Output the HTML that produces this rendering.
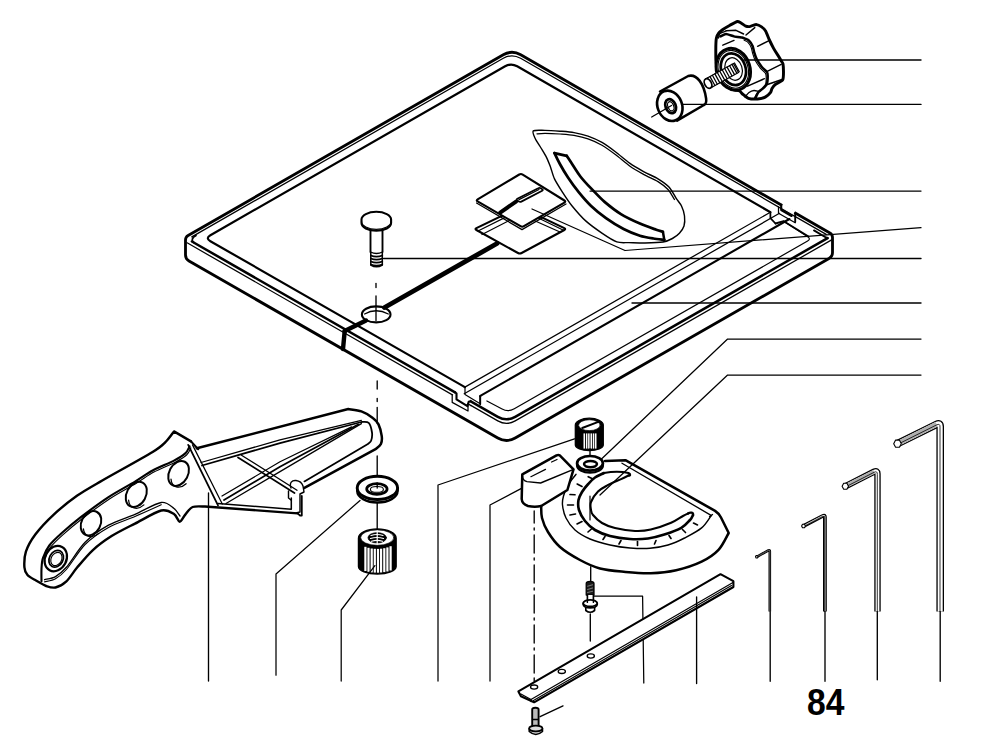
<!DOCTYPE html>
<html><head><meta charset="utf-8"><style>
html,body{margin:0;padding:0;background:#fff;overflow:hidden;}
svg{display:block}
.t{font-family:"Liberation Sans",sans-serif;font-weight:bold;}
</style></head><body>
<svg width="1000" height="738" viewBox="0 0 1000 738">
<g fill="none" stroke="#000" stroke-linejoin="round" stroke-linecap="round">
<path d="M185.5,240 Q185.5,237 188.1,235.5 L503.3,54.8 Q512,49.8 520.7,54.8 L829.9,233 Q832.5,234.5 832.5,237.5 L832.5,252.5 Q832.5,256.5 829,258.5 L515.2,438 Q506.5,443 497.8,438 L189,261 Q185.5,259 185.5,255 Z" stroke-width="2.8350000000000004" fill="none" />
<path d="M191.9,241.5 L497.8,416.8 Q506.5,421.8 515.2,416.8 L827.6,238.1 " stroke-width="2.52" fill="none" />
<polyline points="814,230.4 825.5,237.2 827.6,238.2" stroke-width="1.8900000000000001" fill="none"/>
<path d="M187.1,242.8 L497.8,420.9 Q506.5,425.9 515.2,420.9 L832.5,239.4 " stroke-width="1.25" fill="none" />
<path d="M191.8,236.9 L503.3,58.3 Q511.9,53.3 520.6,58.3 L826.2,234.4 " stroke-width="1.25" fill="none" />
<path d="M196,235.6 Q189.6,239.2 194,242.6" stroke-width="1.7600000000000002" fill="none" />
<path d="M464.9,387.1 L210.4,241.2 Q205.2,238.2 210.4,235.2 L505.1,66.3 Q511.1,62.8 517.2,66.3 L770.4,212.2 " stroke-width="2.205" fill="none" />
<polyline points="464.9,387.1 770.4,212.2" stroke-width="1.25" fill="none"/>
<polyline points="464.2,393.7 779.5,213.3" stroke-width="1.25" fill="none"/>
<polyline points="480.3,395.9 789.4,219" stroke-width="2.1" fill="none"/>
<path d="M486.9,401 L502.1,409 Q508.2,412.3 514.3,408.8 L807.6,241 Q811.1,239 807.7,236.8 L783.7,221.2 " stroke-width="1.2100000000000002" fill="none" />
<line x1="455.6" y1="392.6" x2="469.8" y2="400.8" stroke-width="3.7800000000000002" stroke="#fff" stroke-linecap="butt"/>
<line x1="452.8" y1="395.1" x2="470.6" y2="405.3" stroke-width="2.7300000000000004" stroke="#fff" stroke-linecap="butt"/>
<polyline points="454.6,392.1 456.5,393.3 456.5,399.4 467.4,406.1 468.7,401.8 470.5,401.2" stroke-width="2.1" fill="none"/>
<polyline points="452.2,394.8 452.2,402.4 468,411 468,403.7 471,405.6" stroke-width="1.25" fill="none"/>
<polyline points="463.8,386.6 465,387.2 465,394.5 480.2,403.7 480.2,396.3" stroke-width="1.2100000000000002" fill="none"/>
<polyline points="480.2,396.3 480.2,404.3" stroke-width="1.8900000000000001" fill="none"/>
<line x1="782.2" y1="205.5" x2="794.4" y2="212.5" stroke-width="3.7800000000000002" stroke="#fff" stroke-linecap="butt"/>
<polyline points="781.2,204.9 781.2,210 791.6,216" stroke-width="2.1" fill="none"/>
<polyline points="795.2,213 795.2,222" stroke-width="1.8900000000000001" fill="none"/>
<polyline points="778.5,206.8 778.5,213.3 795.2,222.8" stroke-width="1.25" fill="none"/>
<polyline points="770.4,212.2 770.4,218.2 775.5,223.5" stroke-width="1.7600000000000002" fill="none"/>
<polyline points="775.5,223.5 783.7,221.2 808.5,236.5" stroke-width="1.8900000000000001" fill="none"/>
<polyline points="384.5,307.5 497,243.5" stroke-width="4.83" fill="none"/>
<polyline points="366,320.5 344.7,331" stroke-width="4.41" fill="none"/>
<polyline points="344.7,331 343,349" stroke-width="4.41" fill="none"/>
<ellipse cx="376.2" cy="314.4" rx="14.3" ry="8" stroke-width="2.1" fill="none"/>
<path d="M364.6,314 Q376,307.5 388.3,314" stroke-width="1.25" fill="none" />
<line x1="376" y1="296" x2="376" y2="320.4" stroke-width="1.35" />
<line x1="376" y1="283.5" x2="376" y2="287.5" stroke-width="1.35" />
<path d="M361.5,219.6 A14.8,7.8 0 0 1 391.1,219.6 L391.1,223 A14.8,7.8 0 0 1 361.5,223 Z" stroke-width="2.1" fill="#fff" />
<path d="M361.5,221.5 A14.8,7.8 0 0 0 391.1,221.5" stroke-width="1.25" fill="none" />
<path d="M370.5,230.5 L370.5,252 M382.5,230.5 L382.5,252" stroke-width="1.8900000000000001" fill="none" />
<path d="M370.5,252 Q376.5,255 382.5,252" stroke-width="1.32" fill="none" />
<path d="M370.8,255.5 Q376.5,257.9 382.3,255.5" stroke-width="1.6500000000000001" fill="none" />
<path d="M370.8,258.5 Q376.5,260.9 382.3,258.5" stroke-width="1.6500000000000001" fill="none" />
<path d="M370.8,261.5 Q376.5,263.9 382.3,261.5" stroke-width="1.6500000000000001" fill="none" />
<path d="M370.8,264.5 Q376.5,266.9 382.3,264.5" stroke-width="1.6500000000000001" fill="none" />
<path d="M370.8,253 L370.8,265 Q376.5,268.5 382.3,265 L382.3,253" stroke-width="1.54" fill="none" />
<path d="M476.4,230 Q474.6,229 476.4,228.1 L518.2,207.9 Q520,207 521.8,207.9 L564.3,228.1 Q566.1,229 564.3,230 L521.6,253 Q519.8,254 518,253 Z" stroke-width="2.1" fill="none" />
<polyline points="478,231 516,212" stroke-width="1.25" fill="none"/>
<polyline points="482,234.5 519,215.5" stroke-width="1.25" fill="none"/>
<polyline points="524,216 560,232" stroke-width="1.25" fill="none"/>
<polyline points="527,212.5 563,230" stroke-width="1.25" fill="none"/>
<path d="M477.6,201.4 Q475.9,200.4 477.6,199.4 L519.3,174.5 Q521,173.5 522.7,174.6 L564.4,200.5 Q566.1,201.6 564.4,202.6 L523.9,226.2 Q522.2,227.2 520.5,226.2 Z" stroke-width="2.1" fill="#fff" />
<polyline points="476.5,203 522,229.6 566,204" stroke-width="1.25" fill="none"/>
<path d="M517.2,200.4 Q516,199.5 517.3,198.8 L538.2,188.2 Q539.5,187.5 540.8,188.3 L542.2,189.2 Q543.5,190 542.2,190.7 L521.3,201.6 Q520,202.3 518.8,201.4 Z" stroke-width="1.7600000000000002" fill="none" />
<polyline points="519,199.6 539,189.5" stroke-width="1.25" fill="none"/>
<polyline points="500.2,212.6 516,201.6" stroke-width="3.9899999999999998" fill="none"/>
<polyline points="532,209 625,250.5 921,227.6" stroke-width="1.25" fill="none"/>
<path d="M533.3,130.9 C534.6,129.8 541.4,130.4 545,130.4 C548.6,130.4 556.1,130.9 560,131.2 C563.9,131.5 570.3,131.9 574,132.6 C577.7,133.3 584.3,134.8 588,136.1 C591.7,137.4 598.3,140.3 602,142.4 C605.7,144.5 612.3,149.4 616,152.2 C619.7,155 626.3,160.8 630,163.4 C633.7,166 640.3,169.7 644,171.8 C647.7,173.9 654.6,176.7 658,178.8 C661.4,180.9 666.8,184.6 669.2,187.2 C671.6,189.8 674.6,195.9 676.2,198.4 C677.8,200.9 680.4,203.7 681.5,206 C682.6,208.3 684.2,213.3 684.5,216 C684.8,218.7 684.7,223.7 684,226 C683.3,228.3 680.9,231.6 679.4,233.3 C677.9,235 674.6,237.3 672.4,238.5 C670.2,239.7 666.7,241.4 663,242 C659.3,242.6 649.5,242.9 645,243 C640.5,243.1 632.8,242.7 629,242.6 C625.2,242.5 620.4,243.2 616.8,241.9 C613.2,240.6 606,235.9 601.9,233.1 C597.8,230.3 589.7,224.5 585.7,220.9 C581.7,217.3 575.2,209.8 572.1,206 C569,202.2 564.9,196 562.6,192.4 C560.3,188.8 556.1,182.3 554.5,178.9 C552.9,175.5 551.5,169.6 550.4,166.7 C549.3,163.8 547.8,159.8 546.5,157.3 C545.2,154.8 542.5,150.5 541,148 C539.5,145.5 536.2,140.8 535.2,138.5 C534.2,136.2 532,132 533.3,130.9 Z" stroke-width="1.4300000000000002" fill="#fff" />
<path d="M537,133.8 C538.1,133.7 541.9,133.3 545,133.3 C548.1,133.3 556.1,133.7 560,134 C563.9,134.3 570.3,134.7 574,135.4 C577.7,136.1 584.3,137.6 588,138.9 C591.7,140.2 598.3,143.1 602,145.2 C605.7,147.3 612.3,152.2 616,155 C619.7,157.8 626.3,163.6 630,166.2 C633.7,168.8 640.3,172.5 644,174.6 C647.7,176.7 654.8,179.6 658,181.6 C661.2,183.6 665.8,187.1 668,189.5 C670.2,191.9 673.6,198.2 674.5,199.5 " stroke-width="1.25" fill="none" />
<path d="M554.5,153.1 C555.2,154.6 558.1,160.7 559.9,164 C561.7,167.3 565.5,173.7 568,177.5 C570.5,181.3 575.8,188.6 578.9,192.4 C582,196.2 587.5,202.6 591.1,206 C594.7,209.4 601.7,215.1 606,218.2 C610.3,221.3 619.1,226.7 623.6,229 C628.1,231.3 635.9,234.5 639.9,235.8 C643.9,237.1 650.1,238 653.4,238.5 C656.7,239 662.8,239.7 664.3,239.9 " stroke-width="2.7300000000000004" fill="none" />
<path d="M566.7,155.8 C567.4,156.9 570.3,161.3 572.1,164 C573.9,166.7 577.7,172.9 580.2,176.2 C582.7,179.5 587.8,185 591.1,188.4 C594.4,191.8 600.6,198.5 604.6,201.9 C608.6,205.3 616.2,211.2 620.9,214.1 C625.6,217 635.2,221.5 639.9,223.6 C644.6,225.7 653.1,228.6 656.2,229.7 C659.3,230.8 662,231.5 662.9,231.8 " stroke-width="2.7300000000000004" fill="none" />
<polyline points="554.5,153.1 566.7,155.8" stroke-width="2.7300000000000004" fill="none"/>
<polyline points="662.9,231.8 664.3,239.9" stroke-width="2.52" fill="none"/>
<polyline points="590,191 921,191" stroke-width="1.25" fill="none"/>
<polyline points="548.5,218 532,209" stroke-width="0" fill="none"/>
<path d="M716.4,38 C716.7,36.4 717.9,34.3 718.5,33.5 C719.1,32.7 721.4,30.6 722.5,29.8 C723.6,29 728.5,26 730,25.2 C731.5,24.4 736.3,21.7 737.4,21.5 C738.5,21.3 740.2,22.6 741,23 C741.8,23.4 744.4,25.4 745.2,25.8 C746.1,26.2 748.7,26.7 749.5,26.6 C750.3,26.6 752.3,25.5 753,25.3 C753.7,25.1 755.8,24.5 756.6,24.6 C757.4,24.7 760.3,26 761.2,26.6 C762.1,27.2 764.8,29.7 765.6,31 C766.4,32.3 768.6,38.3 769.4,40 C770.2,41.7 772.8,46.9 773.6,48.4 C774.4,49.9 777,53.9 777.8,55.1 C778.6,56.3 780.7,59.9 781.2,60.8 C781.7,61.7 782.8,62.9 783,64 C783.2,65.1 783.5,70.3 783.5,71.9 C783.5,73.5 783.4,78.7 782.6,80 C781.8,81.3 776.4,83.7 775.3,84.5 C774.2,85.3 772.5,87.7 772,88.5 C771.5,89.3 771.3,91.4 770.6,92.3 C769.9,93.2 766.5,96.4 765.2,97.1 C763.9,97.8 759.3,98.9 757.6,99 C755.9,99.1 749.9,98.8 748.4,98.3 C746.9,97.8 743.4,94.7 742.5,94 C741.6,93.3 740.8,91.5 739.5,91 C738.2,90.5 731.9,89.7 730,88.5 C728.1,87.3 722.4,81.5 721,79 C719.6,76.5 716.7,66.9 716.2,64 C715.7,61.1 715.8,52.6 715.8,50 C715.8,47.4 716.1,39.6 716.4,38 Z" stroke-width="2.94" fill="#fff" />
<path d="M720.4,36.4 C721,36.2 724.6,34 726,34 C727.4,34 732.4,36 734,36.4 C735.6,36.8 740.8,37.4 742,37.6 C743.2,37.8 744.9,38.5 745.6,38.8 C746.3,39.1 748.3,39.9 749,40.6 C749.7,41.3 752.1,44.7 752.6,45.9 C753.1,47.1 753.9,51.3 754.3,52.6 C754.7,53.9 756,57.9 756.8,59.3 C757.5,60.7 760.8,65.6 761.8,66.9 C762.8,68.2 766.3,71 766.9,71.9 C767.5,72.8 767.7,74.9 767.7,76.1 C767.7,77.3 767.4,82.4 766.9,83.7 C766.4,85 763.5,87.9 762.7,88.7 C761.9,89.5 759.2,91.2 758.5,92.1 C757.8,93 755.9,97 755.6,97.6 " stroke-width="2.52" fill="none" />
<path d="M744.1,40.1 C744.4,40.3 746.8,41.2 747.5,41.9 C748.2,42.6 750.6,46 751.1,47.2 C751.6,48.4 752.4,52.6 752.8,53.9 C753.2,55.2 754.5,59.2 755.3,60.6 C756,62 759.3,66.9 760.3,68.2 C761.3,69.5 764.8,72.3 765.4,73.2 C766,74.1 766.2,76.2 766.2,77.4 C766.2,78.6 765.9,83.7 765.4,85 C764.9,86.3 762,89.2 761.2,90 C760.4,90.8 757.7,92.5 757,93.4 C756.3,94.3 754.4,98.3 754.1,98.9 " stroke-width="1.125" fill="none" />
<path d="M718.5,38 C718.7,37.4 719,34.4 720,33.5 C721,32.6 725.2,31.3 726,31 " stroke-width="1.32" fill="none" />
<polyline points="726,30.8 736,30.3 743.6,34" stroke-width="1.4300000000000002" fill="none"/>
<polyline points="746,35 754.8,27.6" stroke-width="1.4300000000000002" fill="none"/>
<polyline points="757.6,46.3 768.6,40.8" stroke-width="1.4300000000000002" fill="none"/>
<polyline points="767.7,71.1 781.2,64.4" stroke-width="1.4300000000000002" fill="none"/>
<polyline points="767.4,84.5 782,79.5" stroke-width="1.4300000000000002" fill="none"/>
<polyline points="747.6,86.2 764.4,78.7" stroke-width="1.4300000000000002" fill="none"/>
<polyline points="722.8,45.2 734,40.4" stroke-width="1.4300000000000002" fill="none"/>
<path d="M745,97 C745.5,96.4 747.8,93.4 749,92.5 C750.2,91.6 752.7,90.6 754,90.5 C755.3,90.4 757.9,91.4 758.5,91.5 " stroke-width="1.32" fill="none" />
<ellipse cx="733.3" cy="69.3" rx="16.8" ry="21.3" stroke-width="2.94" fill="#fff" transform="rotate(-18 733.3 69.3)"/>
<ellipse cx="733.3" cy="69.3" rx="14.8" ry="19.3" stroke-width="1.125" fill="none" transform="rotate(-18 733.3 69.3)"/>
<ellipse cx="733.4" cy="69.2" rx="12.2" ry="16.2" stroke-width="2.7300000000000004" fill="#fff" transform="rotate(-18 733.4 69.2)"/>
<ellipse cx="733.6" cy="69" rx="8.5" ry="11.5" stroke-width="1.2100000000000002" fill="none" transform="rotate(-18 733.6 69)"/>
<path d="M705.5,79 L733.5,63.5 L738.5,72.5 L710.5,88 Z" stroke-width="1.32" fill="#fff" />
<path d="M707.5,78 l4.8,8.7" stroke-width="1.25" fill="none" />
<path d="M710,76.6 l4.8,8.7" stroke-width="1.25" fill="none" />
<path d="M712.4,75.3 l4.8,8.7" stroke-width="1.25" fill="none" />
<path d="M714.9,73.9 l4.8,8.7" stroke-width="1.25" fill="none" />
<path d="M717.3,72.5 l4.8,8.7" stroke-width="1.25" fill="none" />
<path d="M719.8,71.2 l4.8,8.7" stroke-width="1.25" fill="none" />
<path d="M722.2,69.8 l4.8,8.7" stroke-width="1.25" fill="none" />
<path d="M724.7,68.5 l4.8,8.7" stroke-width="1.25" fill="none" />
<path d="M727.1,67.1 l4.8,8.7" stroke-width="1.25" fill="none" />
<path d="M729.6,65.7 l4.8,8.7" stroke-width="1.25" fill="none" />
<path d="M732,64.4 l4.8,8.7" stroke-width="1.25" fill="none" />
<path d="M734.5,63 l4.8,8.7" stroke-width="1.25" fill="none" />
<ellipse cx="708" cy="83.5" rx="3.3" ry="5.2" stroke-width="1.7600000000000002" fill="#fff" transform="rotate(-28 708 83.5)"/>
<path d="M660,91.5 L688.2,76 C697,73.5 704,84 706.1,98.5 C706.6,102 705.6,104.2 703.9,105 L677.1,120.7" stroke-width="2.52" fill="#fff" />
<ellipse cx="669.8" cy="105.8" rx="12.2" ry="15.6" stroke-width="2.625" fill="#fff" transform="rotate(-22 669.8 105.8)"/>
<ellipse cx="670.6" cy="106.2" rx="5.1" ry="7.2" stroke-width="2.7300000000000004" fill="none" transform="rotate(-22 670.6 106.2)"/>
<ellipse cx="670.8" cy="106.3" rx="2.9" ry="4.8" stroke-width="1.25" fill="none" transform="rotate(-22 670.8 106.3)"/>
<line x1="651.7" y1="117" x2="671.5" y2="105.5" stroke-width="1.35" />
<path d="M196.8,448.3 L348.3,409 C350.3,409.4 357.7,410.1 361.4,411.4 C365.1,412.7 370.2,415.9 372.8,417.9 C375.4,419.8 377.2,421.7 378.5,424.4 C379.8,427.1 381.3,432.9 381.7,435.8 C382.1,438.7 381.8,442.1 380.9,444 C380,445.9 376.7,448.1 376,448.8  L304.4,487.9" stroke-width="2.52" fill="none" />
<polyline points="201,462.5 280,439.9 361.4,420.3" stroke-width="1.25" fill="none"/>
<path d="M202,465.5 L280,443.1 L361.4,422 C362.5,422.1 367.1,421.2 368.7,422.8 C370.3,424.4 371.6,429.8 372,432.5 C372.4,435.2 371.7,439 371.1,440.7 C370.5,442.4 368.4,443.5 367.9,444  L304.4,481.4" stroke-width="1.785" fill="none" />
<polyline points="351.6,426.9 280,461.8 222,496" stroke-width="1.25" fill="none"/>
<polyline points="358.1,424.4 280,466.7 224,500" stroke-width="1.7600000000000002" fill="none"/>
<polyline points="361.4,423.6 280,471.6 226,503.5" stroke-width="1.25" fill="none"/>
<path d="M238,457.5 L294.5,493" stroke-width="1.7600000000000002" fill="none" />
<path d="M241.5,455.2 L297,490.2" stroke-width="1.32" fill="none" />
<path d="M291,488 C289,483 292,480 296,480.5 C300,481 302,483 303,486 L304,492 L300,494 L300,512 L296,513 M288.5,491 L288.5,498 L291,500" stroke-width="1.4300000000000002" fill="none" />
<path d="M218,503.5 L291.3,509.2 L291.3,498" stroke-width="1.54" fill="none" />
<path d="M297.6,513.4 L300,515.5 L301.8,515.5 L301.8,496" stroke-width="1.7600000000000002" fill="none" />
<path d="M191,441.4 L174,431.4 C172.7,433 168.6,439 165.4,442.1 C162.2,445.2 162.1,446.2 152.6,452 C143.1,457.8 113.6,474 102.3,480.5 C91,487 84.5,490.5 77.3,495.6 C70.1,500.7 60.3,508.5 54,514.3 C47.7,520.1 39.5,528.9 35.3,534.5 C31.1,540.1 27.5,546.8 25.9,551.7 C24.3,556.6 24.2,563.8 24.4,567.3 C24.6,570.8 25.8,573 27.5,575 C29.2,577 33.2,578.9 36,580.5 C38.8,582.1 43.3,585 46.2,586 C49.1,587 52.5,588.2 55.5,587.5 C58.5,586.8 63.1,584.3 66.4,581.3 C69.7,578.3 73.3,572 77.3,567.3 C81.3,562.6 87.8,554.8 92.9,550.1 C98,545.4 105.3,540.1 111.6,536.1 C117.9,532.1 127.6,527.4 135,523.6 C142.4,519.8 155.3,511.9 161.2,510.5 C167,509.1 171.2,512.3 174,514 C176.8,515.7 178,521.6 179.7,521.7 C181.4,521.8 183.4,516.8 185.3,514.6 C187.2,512.4 189.6,508.2 192.6,507 C195.6,505.8 203.1,506.6 205,506.5  L297.6,513.4" stroke-width="2.415" fill="none" />
<path d="M189.6,446.3 C189,447.4 187.6,451.3 185.3,453.4 C183,455.5 178.9,458 174,460.6 C169.1,463.2 158.4,467.4 152.6,470.5 C146.8,473.6 141.6,477.6 135,481.6 C128.4,485.6 116.7,491.7 108.5,497.1 C100.3,502.5 87.5,512 80.5,517.4 C73.5,522.8 66.5,528.8 61.8,533 C57.1,537.2 52.1,541.8 49.3,545.5 C46.5,549.2 44.2,554.4 43,557.9 C41.8,561.4 41.7,565.3 41.5,568.8 C41.3,572.3 41.5,579.4 41.5,581.3 " stroke-width="2.1" fill="none" />
<path d="M190.9,447.9 C190.3,449 188.9,452.9 186.6,455 C184.3,457.1 180.2,459.6 175.3,462.2 C170.4,464.8 159.8,469 153.9,472.1 C148.1,475.2 142.9,479.2 136.3,483.2 C129.7,487.2 118,493.3 109.8,498.7 C101.6,504.1 88.8,513.6 81.8,519 C74.8,524.4 67.8,530.4 63.1,534.6 C58.4,538.8 53.4,543.4 50.6,547.1 C47.8,550.8 45.2,557.6 44.3,559.5 " stroke-width="1.125" fill="none" />
<path d="M180,516 C179.1,514.9 176.8,510.5 174,508.5 C171.2,506.5 167,501.6 161.2,502.5 C155.3,503.4 142.9,510.9 135,514.3 C127.1,517.7 116,521 108.5,525.2 C101,529.4 91.4,536 85.1,542.3 C78.8,548.6 70.8,562.2 66.4,567.3 C62,572.4 58.8,574.7 55.5,576.6 C52.2,578.5 46.2,579.2 44.6,579.7 " stroke-width="1.32" fill="none" />
<path d="M161.2,504.7 C157.3,506.5 142.9,513.1 135,516.5 C127.1,519.9 116,523.2 108.5,527.4 C101,531.6 91.4,538.2 85.1,544.5 C78.8,550.8 70.8,564.4 66.4,569.5 C62,574.6 58.8,576.9 55.5,578.8 C52.2,580.7 46.2,581.4 44.6,581.9 " stroke-width="1.125" fill="none" />
<polyline points="188.2,444.9 218,505.4" stroke-width="1.785" fill="none"/>
<polyline points="192.5,444.9 222.3,504" stroke-width="1.25" fill="none"/>
<polyline points="191,441.4 198.2,449.2" stroke-width="2.1" fill="none"/>
<ellipse cx="178.6" cy="473.4" rx="9.4" ry="13.2" stroke-width="1.9949999999999999" fill="none" transform="rotate(28 178.6 473.4)"/>
<path d="M170.1,478 A9.4,13.2 28 0 0 185.2,482.6" stroke-width="1.25" fill="none" transform="translate(0.9,1.1)"/>
<ellipse cx="136.3" cy="494.4" rx="9.6" ry="13.4" stroke-width="1.9949999999999999" fill="none" transform="rotate(28 136.3 494.4)"/>
<path d="M127.7,499.1 A9.6,13.4 28 0 0 143,503.8" stroke-width="1.25" fill="none" transform="translate(0.9,1.1)"/>
<ellipse cx="91" cy="523.3" rx="9.5" ry="12.8" stroke-width="1.9949999999999999" fill="none" transform="rotate(28 91 523.3)"/>
<path d="M82.5,527.8 A9.5,12.8 28 0 0 97.7,532.3" stroke-width="1.25" fill="none" transform="translate(0.9,1.1)"/>
<ellipse cx="55.8" cy="558.6" rx="10.6" ry="13.2" stroke-width="2.205" fill="none" transform="rotate(28 55.8 558.6)"/>
<ellipse cx="56.2" cy="558.8" rx="6.8" ry="8.8" stroke-width="1.785" fill="none" transform="rotate(28 56.2 558.8)"/>
<ellipse cx="56.4" cy="559" rx="5.2" ry="7" stroke-width="1.125" fill="none" transform="rotate(28 56.4 559)"/>
<line x1="208.5" y1="493" x2="208.5" y2="681" stroke-width="1.35" />
<line x1="377.2" y1="381" x2="377.2" y2="389" stroke-width="1.35" />
<line x1="377.2" y1="398.5" x2="377.2" y2="401.5" stroke-width="1.35" />
<line x1="377.2" y1="407.5" x2="377.2" y2="423" stroke-width="1.35" />
<line x1="377.2" y1="456" x2="377.2" y2="477" stroke-width="1.35" />
<path d="M357.2,488 L357.2,491 A20.2,11.5 0 0 0 397.6,491 L397.6,488" stroke-width="2.3100000000000005" fill="#fff" />
<ellipse cx="377.4" cy="487.9" rx="20.2" ry="11.6" stroke-width="2.94" fill="#fff"/>
<ellipse cx="376.9" cy="489" rx="10.2" ry="5.4" stroke-width="2.7300000000000004" fill="none"/>
<ellipse cx="376.9" cy="489.4" rx="6.5" ry="2.9" stroke-width="1.125" fill="none"/>
<line x1="377.2" y1="483" x2="377.2" y2="488" stroke-width="1.35" />
<line x1="377.2" y1="503" x2="377.2" y2="528.7" stroke-width="1.35" />
<path d="M358.4,538.2 L358.4,566.5 A18.9,7.5 0 0 0 396.2,566.5 L396.2,538.2 A18.9,9.3 0 0 0 358.4,538.2 Z" stroke-width="1.25" fill="#000" />
<ellipse cx="377.3" cy="537.6" rx="16.6" ry="7.7" stroke-width="0.625" fill="#fff"/>
<ellipse cx="377.2" cy="537.8" rx="9.3" ry="5.2" stroke-width="0.625" fill="#000"/>
<path d="M371,535.5 Q377,533.5 383,535.5 M370.5,538.5 Q377,536.5 383.5,538.5 M371.5,541.3 Q377,539.5 382.5,541.3" stroke-width="1.125" fill="none" stroke="#fff"/>
<line x1="377.2" y1="531" x2="377.2" y2="544" stroke-width="1.215" stroke="#fff"/>
<rect x="364.3" y="546.8" width="2.2" height="24.2" fill="#fff" stroke="none"/>
<rect x="367.4" y="547.8" width="2.2" height="24" fill="#fff" stroke="none"/>
<rect x="370.6" y="548.5" width="2.2" height="23.9" fill="#fff" stroke="none"/>
<rect x="373.7" y="548.8" width="2.2" height="23.8" fill="#fff" stroke="none"/>
<rect x="376.9" y="548.9" width="2.2" height="23.8" fill="#fff" stroke="none"/>
<rect x="380" y="548.7" width="2.2" height="23.8" fill="#fff" stroke="none"/>
<rect x="383.2" y="548.2" width="2.2" height="23.9" fill="#fff" stroke="none"/>
<rect x="386.3" y="547.4" width="2.2" height="24.1" fill="#fff" stroke="none"/>
<rect x="389.5" y="546.2" width="2.2" height="24.3" fill="#fff" stroke="none"/>
<polyline points="360,500.5 276,574 276,675.2" stroke-width="1.25" fill="none"/>
<polyline points="374.9,565.6 341.2,610 341.2,681" stroke-width="1.25" fill="none"/>
<path d="M605.1,461 L625.4,460.2 L715.1,510.9 Q719,513.5 721,517.5 L728.7,533 C727,535.8 723,545.1 718.5,549.9 C714,554.7 708.6,558.3 701.6,561.7 C694.6,565.1 684.7,568.3 676.2,570.2 C667.7,572.1 659.3,572.9 650.8,573.2 C642.3,573.5 633.9,572.7 625.4,571.9 C616.9,571.1 607.6,570.5 600,568.5 C592.4,566.5 586.7,563.6 580,560 C573.3,556.4 565.3,551.7 560,547 C554.7,542.3 551,536.8 548,532 C545,527.2 543.1,522.3 542,518 C540.9,513.7 541.3,508 541.2,506 " stroke-width="2.52" fill="#fff" />
<polyline points="622,463.2 711.5,515.6" stroke-width="1.32" fill="none"/>
<polyline points="709.5,516.5 712.5,514.5" stroke-width="1.32" fill="none"/>
<path d="M576,474.3 C574.7,476.1 570.1,481.4 568,485 C565.9,488.6 564.4,492.7 563.5,496 C562.6,499.3 562.1,501.3 562.5,505 C562.9,508.7 563.9,513.8 566,518 C568.1,522.2 571,526.5 575,530 C579,533.5 584.2,536.5 590,539 C595.8,541.5 603.3,543.5 610,545 C616.7,546.5 623.3,547.5 630,548 C636.7,548.5 643.7,548.8 650,548.3 C656.3,547.8 662.2,546.7 668,545 C673.8,543.3 679,540.9 684.6,538 C690.2,535.1 697.2,531.6 701.6,527.9 C706,524.2 709.4,518 710.9,516 " stroke-width="1.4300000000000002" fill="none" />
<line x1="588.2" y1="476.7" x2="593" y2="479.1" stroke-width="1.6500000000000001" />
<line x1="577.2" y1="484" x2="582" y2="486.5" stroke-width="1.6500000000000001" />
<line x1="570" y1="494.5" x2="575" y2="494.8" stroke-width="1.6500000000000001" />
<line x1="567.5" y1="505" x2="573.5" y2="505" stroke-width="1.6500000000000001" />
<line x1="570" y1="515" x2="575.5" y2="514" stroke-width="1.6500000000000001" />
<line x1="577" y1="524" x2="582" y2="521.5" stroke-width="1.6500000000000001" />
<line x1="588" y1="532" x2="592" y2="528.5" stroke-width="1.6500000000000001" />
<line x1="603" y1="539.5" x2="605" y2="536.5" stroke-width="1.6500000000000001" />
<line x1="619" y1="544" x2="621" y2="540.5" stroke-width="1.6500000000000001" />
<line x1="637.5" y1="545.5" x2="637.5" y2="541.5" stroke-width="1.6500000000000001" />
<line x1="654.5" y1="544" x2="656" y2="540.5" stroke-width="1.6500000000000001" />
<line x1="671" y1="538.5" x2="669" y2="535.5" stroke-width="1.6500000000000001" />
<line x1="685.5" y1="532.5" x2="682.5" y2="529.5" stroke-width="1.6500000000000001" />
<line x1="697.5" y1="525" x2="693.5" y2="523" stroke-width="1.6500000000000001" />
<path d="M604,473 C602.5,473.8 597.6,475.7 595,477.5 C592.4,479.3 590.4,481.6 588.2,484 C586,486.4 583.6,489.3 582,492 C580.4,494.7 579,497 578.5,500 C578,503 577.9,506.5 579,510 C580.1,513.5 582.3,517.7 585,521 C587.7,524.3 590.8,527.5 595,530 C599.2,532.5 604.2,534.5 610,536 C615.8,537.5 623.7,538.6 630,539 C636.3,539.4 642.3,539.2 648,538.5 C653.7,537.8 658.8,536.4 664.3,534.6 C669.8,532.8 677,530.3 681.3,527.9 C685.6,525.5 688,522.1 690,520 C692,517.9 692.5,515.8 693,515 " stroke-width="2.625" fill="none" />
<path d="M628.4,475.5 C627.2,476.1 624.5,477.5 621.1,479.1 C617.7,480.7 611.6,483.1 607.7,485.2 C603.9,487.3 600.8,488.7 598,491.5 C595.2,494.3 592.2,498.9 591,502 C589.8,505.1 590.7,507.8 591,510 C591.3,512.2 591.2,512.8 593,515 C594.8,517.2 598.3,520.8 602,523 C605.7,525.2 609.5,526.7 615,528 C620.5,529.3 629,530.7 635,531 C641,531.3 644.8,531 650.8,529.6 C656.8,528.2 665.7,525.1 671.1,522.8 C676.5,520.5 680.2,517.5 683,516 C685.8,514.5 687.2,513.9 688,513.5 " stroke-width="2.1" fill="none" />
<path d="M604,473 C612,471.5 622,471.5 628.5,473 C631,474 630.5,476 628.4,475.5" stroke-width="2.1" fill="none" />
<path d="M688,513.5 C690.5,511.8 693.5,512.5 693,515" stroke-width="2.3100000000000005" fill="none" />
<line x1="590" y1="496" x2="590" y2="520" stroke-width="1.215" />
<path d="M522.3,474.3 L556.5,455.4 Q558.5,454.5 560,455.6 L573.5,469.4 L567.4,490 L541.2,506 Q535,507.5 528,506 Q522,504 521.7,499 Z" stroke-width="2.52" fill="#fff" />
<path d="M522.3,476 Q522.5,480.5 527,481.6 L540.6,483 L573.5,469.4" stroke-width="1.4300000000000002" fill="none" />
<polyline points="551.6,462 557,459.5" stroke-width="1.25" fill="none"/>
<polyline points="530.9,476.7 545.5,469.4" stroke-width="1.25" fill="none"/>
<path d="M575.3,425 L575.3,445 A14,5.5 0 0 0 603.3,445 L603.3,425 A14,6.8 0 0 0 575.3,425 Z" stroke-width="1.25" fill="#000" />
<ellipse cx="589.4" cy="425.2" rx="10.8" ry="5.4" stroke-width="0.625" fill="#fff"/>
<line x1="582.2" y1="428" x2="599" y2="421.6" stroke-width="1.8900000000000001" />
<rect x="583.5" y="433.4" width="1.5" height="15.2" fill="#fff" stroke="none"/>
<rect x="585.9" y="433.4" width="1.5" height="15.2" fill="#fff" stroke="none"/>
<rect x="588.1" y="433.4" width="1.5" height="15.2" fill="#fff" stroke="none"/>
<rect x="590.5" y="433.4" width="1.5" height="15.2" fill="#fff" stroke="none"/>
<rect x="592.8" y="433.4" width="1.5" height="15.2" fill="#fff" stroke="none"/>
<rect x="595" y="433.4" width="1.5" height="15.2" fill="#fff" stroke="none"/>
<line x1="590" y1="449" x2="590" y2="457" stroke-width="1.35" />
<path d="M577,463.5 L577,465.5 A13,7.3 0 0 0 603,465.5 L603,463.5" stroke-width="2.1" fill="#fff" />
<ellipse cx="590" cy="463.3" rx="12.9" ry="7.3" stroke-width="2.7300000000000004" fill="#fff"/>
<ellipse cx="590.5" cy="464.1" rx="6.5" ry="3.1" stroke-width="2.415" fill="none"/>
<polyline points="574.5,438.8 438,485 438,681" stroke-width="1.25" fill="none"/>
<polyline points="521.5,488.4 490,505 490,681" stroke-width="1.25" fill="none"/>
<line x1="534.2" y1="511" x2="534.2" y2="523" stroke-width="1.35" />
<line x1="534.2" y1="528" x2="534.2" y2="530" stroke-width="1.35" />
<line x1="534.2" y1="535" x2="534.2" y2="553" stroke-width="1.35" />
<line x1="534.2" y1="558" x2="534.2" y2="560" stroke-width="1.35" />
<line x1="534.2" y1="565" x2="534.2" y2="583" stroke-width="1.35" />
<line x1="534.2" y1="588" x2="534.2" y2="590" stroke-width="1.35" />
<line x1="534.2" y1="595" x2="534.2" y2="613" stroke-width="1.35" />
<line x1="534.2" y1="618" x2="534.2" y2="620" stroke-width="1.35" />
<line x1="534.2" y1="625" x2="534.2" y2="643" stroke-width="1.35" />
<line x1="534.2" y1="648" x2="534.2" y2="650" stroke-width="1.35" />
<line x1="534.2" y1="655" x2="534.2" y2="673" stroke-width="1.35" />
<line x1="534.2" y1="678" x2="534.2" y2="681" stroke-width="1.35" />
<line x1="590.7" y1="566.7" x2="590.7" y2="581.7" stroke-width="1.35" />
<line x1="590.3" y1="614" x2="590.3" y2="641" stroke-width="1.35" />
<path d="M586.2,583.5 Q586.2,581.3 590.1,581.3 Q594,581.3 594,583.5 L594,595 L586.2,595 Z" stroke-width="1.25" fill="#1a1a1a" />
<line x1="587.6" y1="586.2" x2="592.6" y2="584.8" stroke-width="1.08" stroke="#777"/>
<line x1="587.6" y1="589.4" x2="592.6" y2="588" stroke-width="1.08" stroke="#777"/>
<line x1="587.6" y1="592.6" x2="592.6" y2="591.2" stroke-width="1.08" stroke="#777"/>
<path d="M587.4,595 L587.4,602.5 L593.4,602.5 L593.4,595" stroke-width="1.6500000000000001" fill="#fff" />
<path d="M585.8,606 L585.8,610.5 Q590.2,614 594.6,610.5 L594.6,606" stroke-width="1.6500000000000001" fill="#fff" />
<path d="M583.2,603.2 L583.2,604.6 A7,3.3 0 0 0 597.2,604.6 L597.2,603.2" stroke-width="1.7600000000000002" fill="#fff" />
<ellipse cx="590.2" cy="603.2" rx="7" ry="3.3" stroke-width="1.785" fill="#fff"/>
<path d="M587.4,602.4 L587.4,600.5 M593.4,600.5 L593.4,602.4" stroke-width="1.4300000000000002" fill="none" />
<polyline points="594.4,596.2 642.6,596.2 643.8,683" stroke-width="1.25" fill="none"/>
<path d="M518.4,691.4 L720.5,574.2 L733.4,581.2 L733.4,587 L534.1,702.3 L520.9,696.2 Z" stroke-width="2.1" fill="#fff" />
<polyline points="520.9,694 531,699.5 733.4,582.3" stroke-width="1.25" fill="none"/>
<polyline points="531,699.5 531,701.5" stroke-width="1.25" fill="none"/>
<polyline points="533.5,700.6 731.5,585.6" stroke-width="1.125" fill="none"/>
<ellipse cx="534.1" cy="687.1" rx="3.6" ry="2.1" stroke-width="1.32" fill="none"/>
<ellipse cx="561.8" cy="671.4" rx="3.6" ry="2.1" stroke-width="1.32" fill="none"/>
<ellipse cx="590.8" cy="656" rx="3.6" ry="2.1" stroke-width="1.32" fill="none"/>
<line x1="696.6" y1="597" x2="696.6" y2="683.6" stroke-width="1.35" />
<path d="M532.2,709.5 Q532.2,707.7 535.4,707.7 Q538.6,707.7 538.6,709.5 L538.6,727.5 L532.2,727.5 Z" stroke-width="1.8900000000000001" fill="#bbb" />
<line x1="532.6" y1="719.5" x2="538.2" y2="719.5" stroke-width="1.54" />
<path d="M529.2,728.5 L529.2,731.5 Q535.8,737.5 542.5,731.5 L542.5,728.5" stroke-width="1.54" fill="#ccc" />
<ellipse cx="535.8" cy="728.5" rx="6.6" ry="2.8" stroke-width="1.7600000000000002" fill="#ddd"/>
<line x1="540.1" y1="716.7" x2="563" y2="705.9" stroke-width="1.35" />
<path d="M756.8,556.8 L768.4,550.4 Q769.8,549.7 769.8,551.3 L769.8,611.6" stroke-width="2.6" stroke-linejoin="round" stroke-linecap="butt" fill="none"/>
<path d="M756.8,556.8 L768.4,550.4 Q769.8,549.7 769.8,551.3 L769.8,611.6" stroke-width="0.5" stroke="#bbb" stroke-linejoin="round" stroke-linecap="butt" fill="none"/>
<path d="M756.8,556.8 L768.4,550.4" stroke-width="1" stroke="#444" stroke-linejoin="round" stroke-linecap="butt" fill="none"/>
<polygon points="758.1,556.8 757.4,558 756.1,558 755.5,556.8 756.1,555.6 757.4,555.6" fill="#fff" stroke-width="1.1"/>
<path d="M803.5,526 L822.9,515.9 Q824.9,514.8 824.9,517.1 L824.9,611.6" stroke-width="3.8" stroke-linejoin="round" stroke-linecap="butt" fill="none"/>
<path d="M803.5,526 L822.9,515.9 Q824.9,514.8 824.9,517.1 L824.9,611.6" stroke-width="1.2" stroke="#fff" stroke-linejoin="round" stroke-linecap="butt" fill="none"/>
<path d="M803.5,526 L822.9,515.9" stroke-width="1.2" stroke="#b0b0b0" stroke-linejoin="round" stroke-linecap="butt" fill="none"/>
<path d="M803.8,526.6 L822.9,516.5 Q824.9,515.4 824.7,517.7 L824.7,611.6" stroke-width="0.8" fill="none"/>
<polygon points="805.4,526 804.5,527.8 802.5,527.8 801.6,526 802.5,524.2 804.5,524.2" fill="#fff" stroke-width="1.1"/>
<path d="M845.3,486.3 L874.1,471.7 Q877.5,470 877.5,473.8 L877.5,611.6" stroke-width="6.4" stroke-linejoin="round" stroke-linecap="butt" fill="none"/>
<path d="M845.3,486.3 L874.1,471.7 Q877.5,470 877.5,473.8 L877.5,611.6" stroke-width="3.8" stroke="#fff" stroke-linejoin="round" stroke-linecap="butt" fill="none"/>
<path d="M845.3,486.3 L874.1,471.7" stroke-width="3.8" stroke="#b0b0b0" stroke-linejoin="round" stroke-linecap="butt" fill="none"/>
<path d="M845.6,486.9 L874.1,472.3 Q877.5,470.6 877.3,474.4 L877.3,611.6" stroke-width="0.8" fill="none"/>
<polygon points="848.5,486.3 846.9,489.3 843.7,489.3 842.1,486.3 843.7,483.3 846.9,483.3" fill="#fff" stroke-width="1.1"/>
<path d="M897.5,443.7 L936.6,424.3 Q940.2,422.5 940.2,426.5 L940.2,611.6" stroke-width="7.6" stroke-linejoin="round" stroke-linecap="butt" fill="none"/>
<path d="M897.5,443.7 L936.6,424.3 Q940.2,422.5 940.2,426.5 L940.2,611.6" stroke-width="5" stroke="#fff" stroke-linejoin="round" stroke-linecap="butt" fill="none"/>
<path d="M897.5,443.7 L936.6,424.3" stroke-width="5" stroke="#b0b0b0" stroke-linejoin="round" stroke-linecap="butt" fill="none"/>
<path d="M897.8,444.3 L936.6,424.9 Q940.2,423.1 940,427.1 L940,611.6" stroke-width="0.8" fill="none"/>
<polygon points="901.3,443.7 899.4,447.3 895.6,447.3 893.7,443.7 895.6,440.1 899.4,440.1" fill="#fff" stroke-width="1.1"/>
<line x1="770.2" y1="611.6" x2="770.2" y2="681.3" stroke-width="1.35" />
<line x1="825" y1="611.6" x2="825" y2="681.3" stroke-width="1.35" />
<line x1="877.3" y1="611.6" x2="877.3" y2="679.8" stroke-width="1.35" />
<line x1="940.2" y1="611.6" x2="940.2" y2="681.3" stroke-width="1.35" />
<text x="0" y="0" class="t" font-size="34" fill="#000" stroke="none" transform="translate(807,714.6) scale(0.99,1.1)">84</text>
<line x1="744" y1="60" x2="921" y2="60" stroke-width="1.35" />
<line x1="681.5" y1="104.4" x2="921" y2="104.4" stroke-width="1.35" />
<line x1="383.6" y1="258.5" x2="921" y2="258.5" stroke-width="1.35" />
<line x1="632" y1="303" x2="921" y2="303" stroke-width="1.35" />
<polyline points="601.5,459 727.6,339 921,339" stroke-width="1.25" fill="none"/>
<polyline points="600,495 727.6,375 921,375" stroke-width="1.25" fill="none"/>
</g>
</svg>
</body></html>
